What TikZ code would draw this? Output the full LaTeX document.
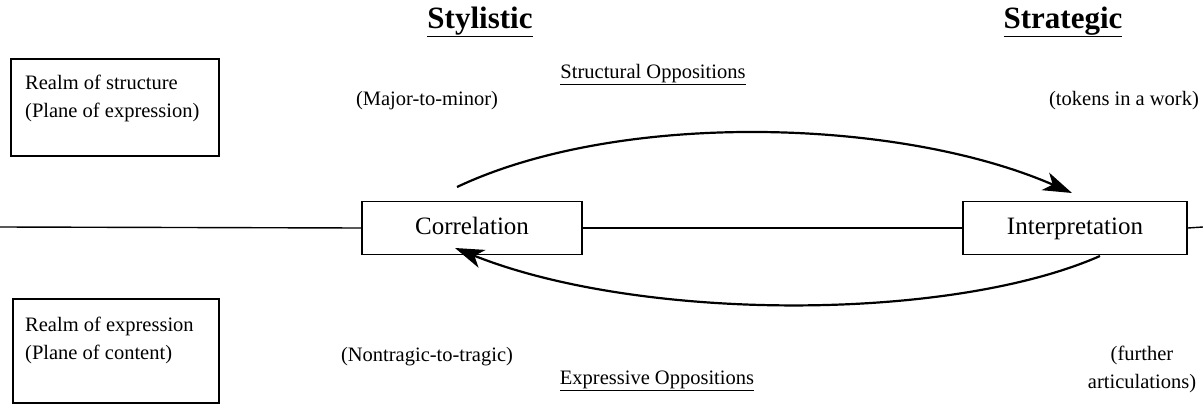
\documentclass[tikz,border=0pt]{standalone}
\usepackage{fontspec}
\setmainfont{Liberation Serif}
\usetikzlibrary{arrows.meta}
\begin{document}
\begin{tikzpicture}[x=1pt,y=-1pt,
  every node/.style={font=\fontsize{20.5}{28}\selectfont, inner sep=0pt},
  frame/.style={draw, line width=1.6pt, minimum height=53pt, rectangle,
    font=\fontsize{25}{30}\selectfont, text height=17pt, text depth=5pt},
  realmbox/.style={draw, line width=1.6pt, rectangle, anchor=north west},
  head/.style={font=\fontsize{31}{35}\selectfont\bfseries},
  flow/.style={line width=2.2pt, -{Stealth[length=29pt,width=19pt,inset=8pt]}}]
\useasboundingbox (0,0) rectangle (1203,407);

% column headings
\node[head] (sty) at (480,22) {\underline{Stylistic}};
\node[head] (str) at (1063,22) {\underline{Strategic}};

% the two realms on the left
\node[realmbox, minimum width=208pt, minimum height=97pt] (rs) at (10,58) {};
\node[anchor=west, align=left] (rst) at (25,98) {Realm of structure\\(Plane of expression)};
\node[realmbox, minimum width=206pt, minimum height=104pt] (re) at (12,298) {};
\node[anchor=west, align=left] (ret) at (25,340) {Realm of expression\\(Plane of content)};

% axis with the two stations
\coordinate (l) at (0,227);
\coordinate (r) at (1203,227);
\node[frame, minimum width=220pt] (cor) at (472,228) {Correlation};
\node[frame, minimum width=224pt] (int) at (1075,228) {Interpretation};
\draw[line width=1.4pt] (l) -- (cor.west);
\draw[line width=1.4pt] (cor.east) -- (int.west);
\draw[line width=1.4pt] (int.east) -- (r);

% labels
\node (maj) at (427,101) {(Major-to-minor)};
\node (so) at (653,75) {\underline{Structural Oppositions}};
\node (tok) at (1124,101) {(tokens in a work)};
\node (nt) at (427,357) {(Nontragic-to-tragic)};
\node (eo) at (657,381) {\underline{Expressive Oppositions}};
\node[align=center] (fa) at (1142,369) {(further\\articulations)};

% the two curved arrows
\coordinate (a1) at (457,187);
\coordinate (a2) at (1072,193);
\coordinate (b1) at (1100,256);
\coordinate (b2) at (455,248);
\draw[flow] (a1) .. controls (620,110) and (900,118) .. (a2);
\draw[flow] (b1) .. controls (950,322) and (640,322) .. (b2);
\end{tikzpicture}
\end{document}
